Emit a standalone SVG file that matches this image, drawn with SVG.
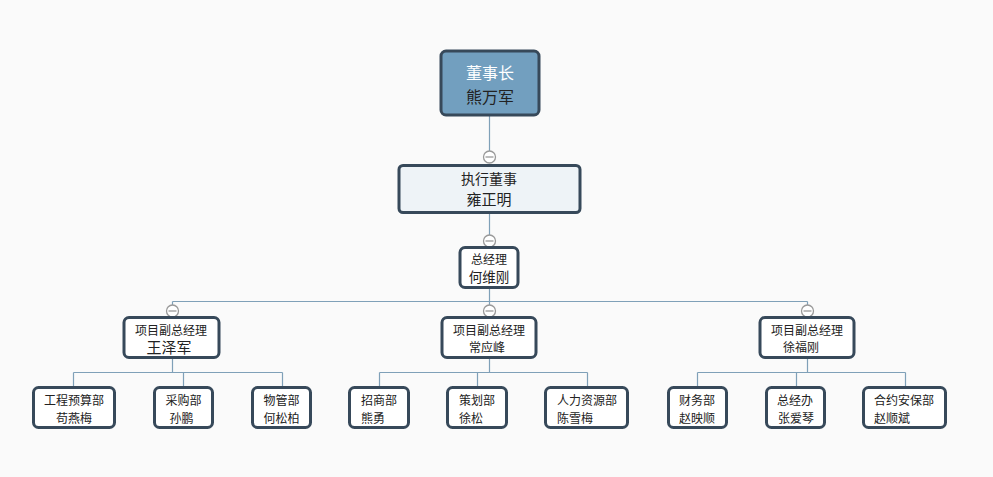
<svg xmlns="http://www.w3.org/2000/svg" width="993" height="477" viewBox="0 0 993 477">
<style>
.bg{fill:#fafafa}
.box{fill:#ffffff;stroke:#37495a;stroke-width:3}
.top{fill:#729fbf;stroke:#37495a;stroke-width:3}
.exec{fill:#eef3f7;stroke:#37495a;stroke-width:3}
.ln{fill:none;stroke:#7fa0b8;stroke-width:1.2}
.tog{fill:#ffffff;stroke:#999999;stroke-width:1.3}
.togm{stroke:#999999;stroke-width:1.3}
text{font-family:"Noto Sans CJK SC","Noto Sans",sans-serif;fill:#222222}
.s12{font-size:12px}
.s13{font-size:13.5px}
.s14{font-size:14px}
.s15{font-size:15px}
.s16{font-size:16px}
.c{text-anchor:middle}
.w{fill:#ffffff}
</style>
<defs>
<g id="toggle">
<circle class="tog" cx="0" cy="0" r="6"/>
<line class="togm" x1="-4" y1="0" x2="4" y2="0"/>
</g>
</defs>
<rect class="bg" x="0" y="0" width="993" height="477"/>
<g id="connectors">
<path class="ln" d="M489.5 116V151M489.5 213V235M489.5 288V301.5M172.5 301.5H807.5M172.5 301.5V305M489.5 301.5V305M807.5 301.5V305"/>
<path class="ln" d="M172.5 358V372.5M73.5 372.5H282.5M73.5 372.5V387M183.5 372.5V387M282.5 372.5V387"/>
<path class="ln" d="M489.5 358V372.5M379.5 372.5H587.5M379.5 372.5V387M477.5 372.5V387M587.5 372.5V387"/>
<path class="ln" d="M807.5 358V372.5M697.5 372.5H905.5M697.5 372.5V387M796.5 372.5V387M905.5 372.5V387"/>
<use href="#toggle" x="489.5" y="157"/>
<use href="#toggle" x="489.5" y="241"/>
<use href="#toggle" x="172.5" y="311"/>
<use href="#toggle" x="489.5" y="311"/>
<use href="#toggle" x="807.5" y="311"/>
</g>
<g id="n-chairman">
<rect class="top" x="441" y="51" width="98" height="64" rx="5"/>
<text class="s16 c w" x="490" y="79">董事长</text>
<text class="s16 c" x="490" y="103">熊万军</text>
</g>
<g id="n-exec">
<rect class="exec" x="399" y="165.5" width="181" height="47" rx="4"/>
<text class="s14 c" x="489" y="184">执行董事</text>
<text class="s15 c" x="489" y="205">雍正明</text>
</g>
<g id="n-gm">
<rect class="box" x="460" y="247.5" width="58" height="40" rx="5"/>
<text class="s12 c" x="489" y="264">总经理</text>
<text class="s13 c" x="489" y="282">何维刚</text>
</g>
<g id="n-vp1">
<rect class="box" x="124" y="317.5" width="95" height="40" rx="5"/>
<text class="s12 c" x="171" y="334.5">项目副总经理</text>
<text class="s15 c" x="169" y="353">王泽军</text>
</g>
<g id="n-vp2">
<rect class="box" x="442" y="317.5" width="94" height="40" rx="5"/>
<text class="s12 c" x="489" y="334.5">项目副总经理</text>
<text class="s12 c" x="487" y="352">常应峰</text>
</g>
<g id="n-vp3">
<rect class="box" x="760" y="317.5" width="94" height="40" rx="5"/>
<text class="s12 c" x="807" y="334.5">项目副总经理</text>
<text class="s12 c" x="801" y="352">徐福刚</text>
</g>
<g id="n-d1">
<rect class="box" x="33.5" y="387.5" width="81" height="40" rx="5"/>
<text class="s12 c" x="74" y="404.5">工程预算部</text>
<text class="s12 c" x="74" y="422.5">苟燕梅</text>
</g>
<g id="n-d2">
<rect class="box" x="154.5" y="387.5" width="58" height="40" rx="5"/>
<text class="s12 c" x="183.5" y="404.5">采购部</text>
<text class="s12 c" x="181.5" y="422.5">孙鹏</text>
</g>
<g id="n-d3">
<rect class="box" x="252.5" y="387.5" width="58" height="40" rx="5"/>
<text class="s12 c" x="281.5" y="404.5">物管部</text>
<text class="s12 c" x="281.5" y="422.5">何松柏</text>
</g>
<g id="n-d4">
<rect class="box" x="349.5" y="387.5" width="59" height="40" rx="5"/>
<text class="s12" x="361" y="404.5">招商部</text>
<text class="s12" x="361" y="422.5">熊勇</text>
</g>
<g id="n-d5">
<rect class="box" x="447.5" y="387.5" width="59" height="40" rx="5"/>
<text class="s12" x="459" y="404.5">策划部</text>
<text class="s12" x="459" y="422.5">徐松</text>
</g>
<g id="n-d6">
<rect class="box" x="545.5" y="387.5" width="82" height="40" rx="5"/>
<text class="s12" x="557" y="404.5">人力资源部</text>
<text class="s12" x="557" y="422.5">陈雪梅</text>
</g>
<g id="n-d7">
<rect class="box" x="668.5" y="387.5" width="58" height="40" rx="5"/>
<text class="s12" x="679" y="404.5">财务部</text>
<text class="s12" x="679" y="422.5">赵映顺</text>
</g>
<g id="n-d8">
<rect class="box" x="766.5" y="387.5" width="58" height="40" rx="5"/>
<text class="s12" x="777" y="404.5">总经办</text>
<text class="s12" x="778" y="422.5">张爱琴</text>
</g>
<g id="n-d9">
<rect class="box" x="863.5" y="387.5" width="82" height="40" rx="5"/>
<text class="s12" x="874" y="404.5">合约安保部</text>
<text class="s12" x="874" y="422.5">赵顺斌</text>
</g>
</svg>
